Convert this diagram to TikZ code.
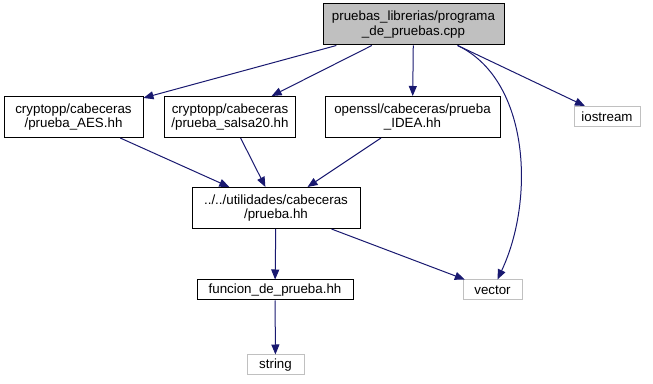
\documentclass[tikz,border=0pt]{standalone}
\usepackage[svgnames]{xcolor}
\usepackage{fontspec}
\setmainfont{Liberation Sans}
\usepackage{tikz}
\usetikzlibrary{arrows.meta}

\begin{document}
\begin{tikzpicture}[x=0.75pt, y=-0.75pt, -{Triangle[length=7.5pt,width=6pt]},
      color=MidnightBlue, line width=0.75pt,
      every node/.append style={font=\fontsize{10}{11}\selectfont, text=black,
        align=center, inner xsep=5pt, inner ysep=0pt}]
    \tikzstyle{header} = [draw=black, fill=white, minimum height=30.75pt]
    \tikzstyle{main} = [header, fill=Silver]
    \tikzstyle{system} = [draw=Silver, fill=white, minimum height=15pt]
    \useasboundingbox (0,0) rectangle (653,384);
    % include graph, top to bottom
    \node (root) [main, minimum width=135.75pt] at (413.5,24.5) {pruebas\_librerias/programa\\\_de\_pruebas.cpp};
    \node (aes) [header, minimum width=104.25pt] at (73.5,117) {cryptopp/cabeceras\\/prueba\_AES.hh};
    \node (salsa) [header, minimum width=97.5pt] at (230,117) {cryptopp/cabeceras\\/prueba\_salsa20.hh};
    \node (idea) [header, minimum width=131.25pt] at (412.5,117) {openssl/cabeceras/prueba\\\_IDEA.hh};
    \node (iostream) [system, minimum width=49.5pt] at (607,116.5) {iostream};
    \node (prueba) [header, minimum width=126pt] at (276,208) {../../utilidades/cabeceras\\/prueba.hh};
    \node (funcion) [header, minimum width=117pt, minimum height=15pt] at (275,290) {funcion\_de\_prueba.hh};
    \node (vector) [system, minimum width=44.25pt] at (492.5,290) {vector};
    \node (string) [system, minimum width=42.75pt] at (275.5,365) {string};
    \draw (root) -- (aes);
    \draw (root) -- (salsa);
    \draw (root) -- (idea);
    \draw (root) -- (iostream);
    \draw (root) .. controls (530,80) and (535,200) .. (vector);
    \draw (aes) -- (prueba);
    \draw (salsa) -- (prueba);
    \draw (idea) -- (prueba);
    \draw (prueba) -- (funcion);
    \draw (prueba) -- (vector);
    \draw (funcion) -- (string);
\end{tikzpicture}
\end{document}
